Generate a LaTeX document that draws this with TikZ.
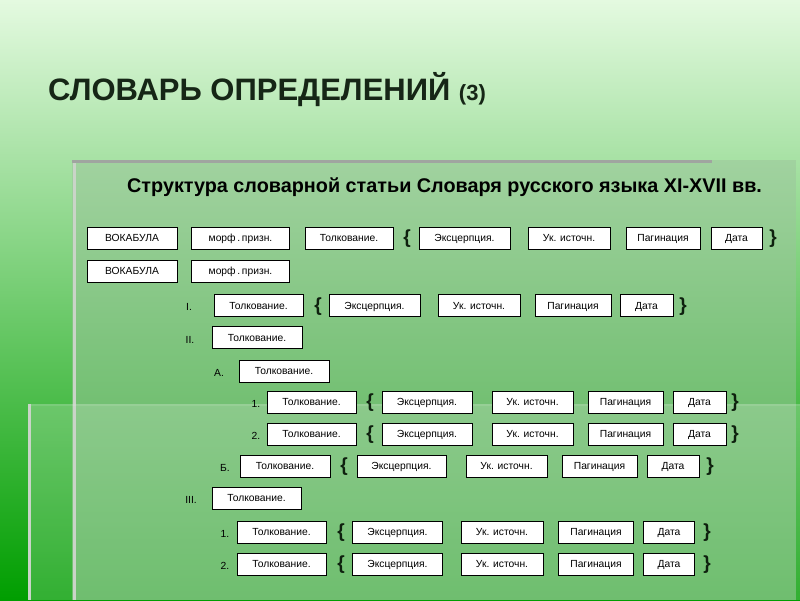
\documentclass[tikz,border=0pt]{standalone}
\usepackage{fontspec}
\setmainfont{Liberation Sans}
\usetikzlibrary{positioning}
\definecolor{bgtop}{RGB}{228,250,224}
\definecolor{bgbot}{RGB}{0,158,0}
\definecolor{panelgrey}{RGB}{156,196,156}
\definecolor{edgegrey}{RGB}{160,165,160}
\definecolor{edgelight}{RGB}{202,212,200}
\definecolor{titlegreen}{RGB}{22,38,22}
\definecolor{bracegreen}{RGB}{14,32,14}

\begin{document}
\begin{tikzpicture}[x=1pt, y=-1pt,
  box/.style={draw, fill=white, line width=0.8pt, minimum width=#1pt, minimum height=22pt, inner sep=0pt, text height=7.4pt, text depth=0pt, font=\fontsize{10.3}{12}\selectfont},
  lbl/.style={inner sep=0pt, text height=7.4pt, text depth=0pt, font=\fontsize{10.3}{12}\selectfont},
  brc/.style={inner sep=0pt, text=bracegreen, font=\fontsize{19}{22}\selectfont\bfseries}]
\useasboundingbox (0,0) rectangle (800,600);
% background and panels
\fill[top color=bgtop, bottom color=bgbot] (0,0) rectangle (800,600);
\fill[panelgrey, fill opacity=0.5] (72,160) rectangle (796,600);
\fill[white!75!panelgrey, fill opacity=0.22] (28,404) rectangle (800,600);
\draw[edgegrey, line width=3.5pt] (72,161.5) -- (712,161.5);
\draw[edgelight, line width=3pt] (74.5,163) -- (74.5,600);
\draw[edgelight, line width=3pt] (29.5,404) -- (29.5,600);
\draw[white, opacity=0.1, line width=1.5pt] (31,405) -- (800,405);

% headings
\node[anchor=base west, inner sep=0pt, text=titlegreen, font=\fontsize{31}{36}\selectfont\bfseries] (title) at (48,100) {СЛОВАРЬ ОПРЕДЕЛЕНИЙ {\fontsize{22}{24}\selectfont(3)}};
\node[anchor=base west, inner sep=0pt, font=\fontsize{19.8}{23}\selectfont\bfseries] (sub) at (127,192) {Структура словарной статьи Словаря русского языка XI-XVII вв.};

% row 1
\node[box=90] (v1) at (132,238) {ВОКАБУЛА};
\node[box=98] (m1) at (240.5,238) {морф\,.\,призн.};
\node[box=88] (t1) at (349,238) {Толкование.};
\node[brc] (ob1) at (407,239) {\{};
\node[box=91] (e1) at (464.5,238) {Эксцерпция.};
\node[box=82] (u1) at (569,238) {Ук. источн.};
\node[box=74] (p1) at (663,238) {Пагинация};
\node[box=51] (d1) at (736.5,238) {Дата};
\node[brc] (cb1) at (773,239) {\}};

% row 2
\node[box=90] (v2) at (132,271) {ВОКАБУЛА};
\node[box=98] (m2) at (240.5,271) {морф\,.\,призн.};

% I.
\node[lbl] (n3) at (189,307) {I.};
\node[box=89] (t3) at (258.5,305.5) {Толкование.};
\node[brc] (ob3) at (318,306.5) {\{};
\node[box=91] (e3) at (374.5,305.5) {Эксцерпция.};
\node[box=82] (u3) at (479,305.5) {Ук. источн.};
\node[box=76] (p3) at (573,305.5) {Пагинация};
\node[box=53] (d3) at (646.5,305.5) {Дата};
\node[brc] (cb3) at (683,306.5) {\}};

% II.
\node[lbl] (n4) at (190,340) {II.};
\node[box=90] (t4) at (257,337.5) {Толкование.};

% A.
\node[lbl] (n5) at (219,373) {А.};
\node[box=90] (t5) at (284,371) {Толкование.};

% 1.
\node[lbl] (n6) at (256,404) {1.};
\node[box=89] (t6) at (311.5,402) {Толкование.};
\node[brc] (ob6) at (370,403) {\{};
\node[box=90] (e6) at (427,402) {Эксцерпция.};
\node[box=81] (u6) at (532.5,402) {Ук. источн.};
\node[box=75] (p6) at (625.5,402) {Пагинация};
\node[box=53] (d6) at (699.5,402) {Дата};
\node[brc] (cb6) at (735,403) {\}};

% 2.
\node[lbl] (n7) at (256,436) {2.};
\node[box=89] (t7) at (311.5,434) {Толкование.};
\node[brc] (ob7) at (370,435) {\{};
\node[box=90] (e7) at (427,434) {Эксцерпция.};
\node[box=81] (u7) at (532.5,434) {Ук. источн.};
\node[box=75] (p7) at (625.5,434) {Пагинация};
\node[box=53] (d7) at (699.5,434) {Дата};
\node[brc] (cb7) at (735,435) {\}};

% B.
\node[lbl] (n8) at (225,468) {Б.};
\node[box=90] (t8) at (285,466) {Толкование.};
\node[brc] (ob8) at (344,467) {\{};
\node[box=89] (e8) at (401.5,466) {Эксцерпция.};
\node[box=81] (u8) at (506.5,466) {Ук. источн.};
\node[box=75] (p8) at (599.5,466) {Пагинация};
\node[box=52] (d8) at (673,466) {Дата};
\node[brc] (cb8) at (710,467) {\}};

% III.
\node[lbl] (n9) at (191,500) {III.};
\node[box=89] (t9) at (256.5,498) {Толкование.};

% III. 1.
\node[lbl] (n10) at (225,534) {1.};
\node[box=89] (t10) at (281.5,532) {Толкование.};
\node[brc] (ob10) at (341,533) {\{};
\node[box=90] (e10) at (397.5,532) {Эксцерпция.};
\node[box=82] (u10) at (502,532) {Ук. источн.};
\node[box=75] (p10) at (596,532) {Пагинация};
\node[box=51] (d10) at (669,532) {Дата};
\node[brc] (cb10) at (707,533) {\}};

% III. 2.
\node[lbl] (n11) at (225,566) {2.};
\node[box=89] (t11) at (281.5,564) {Толкование.};
\node[brc] (ob11) at (341,565) {\{};
\node[box=90] (e11) at (397.5,564) {Эксцерпция.};
\node[box=82] (u11) at (502,564) {Ук. источн.};
\node[box=75] (p11) at (596,564) {Пагинация};
\node[box=51] (d11) at (669,564) {Дата};
\node[brc] (cb11) at (707,565) {\}};
\end{tikzpicture}
\end{document}
